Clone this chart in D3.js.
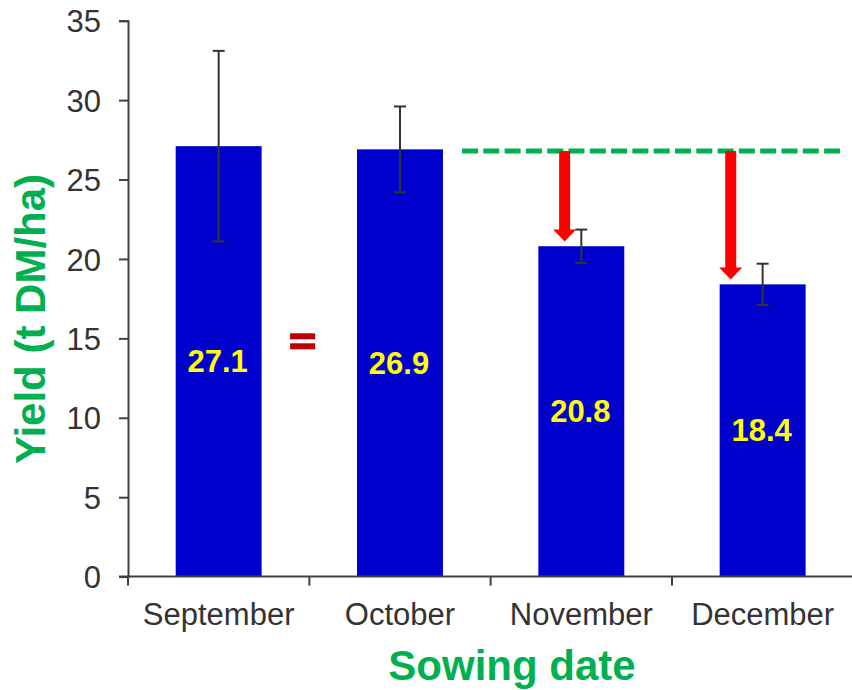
<!DOCTYPE html>
<html>
<head>
<meta charset="utf-8">
<script src="https://cdn.jsdelivr.net/npm/d3@7"></script>
<style>
  html, body { margin: 0; padding: 0; background: #fff; }
  svg { display: block; }
  text { font-family: Arial, "Liberation Sans", sans-serif; }
</style>
</head>
<body>
<svg id="chart" width="852" height="690"></svg>
<script>
// ---- data ----
const categories = ["September", "October", "November", "December"];
const yields = [27.1, 26.9, 20.8, 18.4];
const errors = [6.0, 2.7, 1.05, 1.3];
const yTicks = [0, 5, 10, 15, 20, 25, 30, 35];
const refLevel = 26.8;               // dashed reference line
const arrowCats = ["November", "December"];
const arrowTips = [21.1, 18.7];

// ---- layout ----
const svg = d3.select("#chart");
const x0 = 128, x1 = 853.3, yBottom = 576.6, yTop = 20.7;
const pad = 0.526;

const x = d3.scaleBand().domain(categories).range([x0, x1])
  .paddingInner(pad).paddingOuter(pad / 2);
const xIdx = d3.scaleLinear().domain([0, categories.length]).range([x0, x1]);
const y = d3.scaleLinear().domain([0, 35]).range([yBottom, yTop]);

const axisColor = "#404040";
const textColor = "#333333";
const green = "#00B050";

// bars
svg.append("g").selectAll("rect").data(categories).join("rect")
  .attr("x", d => x(d))
  .attr("y", (d, i) => y(yields[i]))
  .attr("width", x.bandwidth())
  .attr("height", (d, i) => y(0) - y(yields[i]))
  .attr("fill", "#0000CC");

// error bars
const eg = svg.append("g").attr("stroke", "#333").attr("stroke-width", 2);
categories.forEach((c, i) => {
  const cx = x(c) + x.bandwidth() / 2;
  const hi = y(yields[i] + errors[i]), lo = y(yields[i] - errors[i]);
  eg.append("line").attr("x1", cx).attr("x2", cx).attr("y1", hi).attr("y2", lo);
  eg.append("line").attr("x1", cx - 6).attr("x2", cx + 6).attr("y1", hi).attr("y2", hi);
  eg.append("line").attr("x1", cx - 6).attr("x2", cx + 6).attr("y1", lo).attr("y2", lo);
});

// value labels
svg.append("g").selectAll("text").data(categories).join("text")
  .attr("x", d => x(d) + x.bandwidth() / 2 - 1)
  .attr("y", (d, i) => (y(yields[i]) + y(0)) / 2 + 11)
  .attr("text-anchor", "middle")
  .attr("font-size", 31).attr("font-weight", "bold")
  .attr("fill", "#FFFF00")
  .text((d, i) => yields[i].toFixed(1));

// y axis
const yAxis = svg.append("g").attr("transform", `translate(${x0},0)`)
  .call(d3.axisLeft(y).tickValues(yTicks).tickSize(9).tickPadding(18).tickFormat(d3.format("d")));
yAxis.select(".domain").attr("stroke", axisColor).attr("stroke-width", 2);
yAxis.selectAll(".tick line").attr("stroke", axisColor).attr("stroke-width", 2);
yAxis.selectAll(".tick text").attr("font-size", 31).attr("fill", textColor)
  .attr("font-family", "Arial, 'Liberation Sans', sans-serif").attr("dy", "0.36em");

// x axis (labels at centres, ticks at band boundaries)
const xAxis = svg.append("g").attr("transform", `translate(0,${yBottom})`)
  .call(d3.axisBottom(x).tickSize(0).tickPadding(0));
xAxis.select(".domain").remove();
xAxis.selectAll(".tick text").attr("font-size", 31).attr("fill", textColor)
  .attr("font-family", "Arial, 'Liberation Sans', sans-serif")
  .attr("y", 48).attr("dy", 0);
svg.append("line").attr("x1", x0 - 9).attr("x2", x1).attr("y1", yBottom).attr("y2", yBottom)
  .attr("stroke", axisColor).attr("stroke-width", 2);
svg.append("g").selectAll("line").data(d3.range(categories.length + 1)).join("line")
  .attr("x1", d => xIdx(d)).attr("x2", d => xIdx(d))
  .attr("y1", yBottom).attr("y2", yBottom + 9)
  .attr("stroke", axisColor).attr("stroke-width", 2);

// axis titles
svg.append("text")
  .attr("transform", `translate(45,${(173 + 465) / 2}) rotate(-90)`)
  .attr("text-anchor", "middle").attr("font-size", 42).attr("font-weight", "bold")
  .attr("fill", green).text("Yield (t DM/ha)");
svg.append("text")
  .attr("x", 512).attr("y", 680)
  .attr("text-anchor", "middle").attr("font-size", 42).attr("font-weight", "bold")
  .attr("fill", green).text("Sowing date");

// dashed reference line
svg.append("line")
  .attr("x1", xIdx(1.842)).attr("x2", xIdx(3.927))
  .attr("y1", y(refLevel)).attr("y2", y(refLevel))
  .attr("stroke", green).attr("stroke-width", 5)
  .attr("stroke-dasharray", "16,5.3");

// red arrows
const arrowX = { "November": 2.408, "December": 3.324 };
arrowCats.forEach((c, i) => {
  const cx = xIdx(arrowX[c]);
  const top = y(refLevel), tip = y(arrowTips[i]);
  const hl = 12, hw = 11.5, sw = 5.5;
  const p = [[cx - sw, top], [cx + sw, top], [cx + sw, tip - hl], [cx + hw, tip - hl],
             [cx, tip], [cx - hw, tip - hl], [cx - sw, tip - hl]];
  svg.append("path").attr("d", "M" + p.map(q => q.join(",")).join("L") + "Z")
    .attr("fill", "#FF0000");
});

// equals sign between September and October
const eqL = xIdx(0.894), eqR = xIdx(1.032);
[333.3, 343.3].forEach(yy => {
  svg.append("rect").attr("x", eqL).attr("y", yy).attr("width", eqR - eqL).attr("height", 6)
    .attr("fill", "#C00000");
});
</script>
</body>
</html>
